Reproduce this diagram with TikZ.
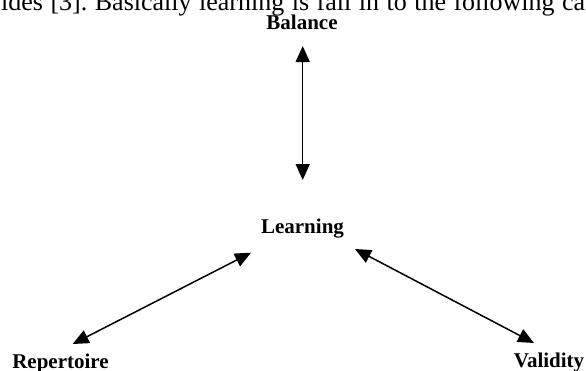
\documentclass[tikz,border=0pt]{standalone}
\usepackage{fontspec}
\setmainfont{Liberation Serif}
\usetikzlibrary{arrows.meta}
\frenchspacing
\begin{document}
\begin{tikzpicture}[x=1pt,y=-1pt,
  lbl/.style={inner sep=0pt,anchor=base,font=\fontsize{21}{24}\selectfont\bfseries},
  arr/.style={line width=1.5pt,{Triangle[length=16pt,width=14pt]}-{Triangle[length=16pt,width=14pt]}}]
\useasboundingbox (0,0) rectangle (586,370);
\clip (0,0) rectangle (586,370);
\fill[white] (0,0) rectangle (586,370);
\node[inner sep=0pt,anchor=base west,font=\fontsize{26}{30}\selectfont] (top) at (1,10)
  {\makebox[584pt][s]{ides [3]. Basically learning is fall in to the following ca}};
\node[lbl] (bal) at (302,29) {Balance};
\node[lbl] (learn) at (302.5,233) {Learning};
\node[lbl] (rep) at (60.5,368) {Repertoire};
\node[lbl] (val) at (549,367) {Validity};
\draw[arr] ([shift={(0.7,17)}]bal.base) -- ([shift={(0.2,-53)}]learn.base);
\draw[arr] ([shift={(-51.5,19.7)}]learn.base) -- ([shift={(12.2,-24)}]rep.base);
\draw[arr] ([shift={(52.5,16)}]learn.base) -- ([shift={(-15,-24)}]val.base);
\end{tikzpicture}
\end{document}
